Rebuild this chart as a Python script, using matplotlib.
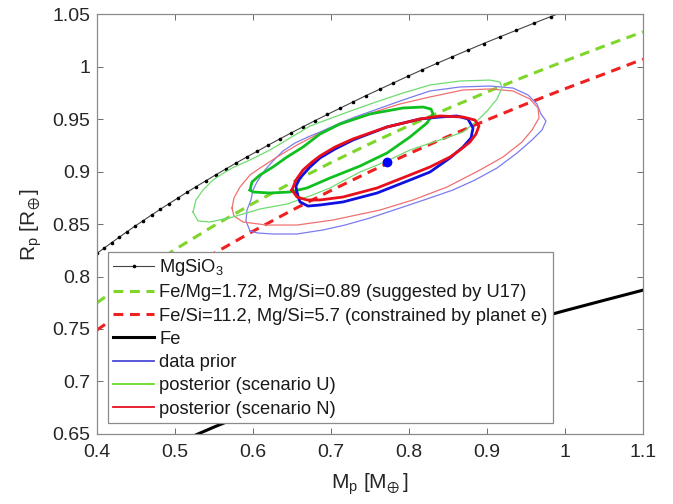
import numpy as np
import matplotlib
matplotlib.use("Agg")
import matplotlib.pyplot as plt

plt.rcParams['font.family'] = ['Liberation Sans', 'DejaVu Sans']
plt.rcParams['mathtext.default'] = 'regular'

# mass-radius relations (mass in M_earth, radius in R_earth)
mgsio3_m = [0.4000, 0.4093, 0.4189, 0.4286, 0.4386, 0.4488, 0.4593, 0.4700, 0.4809, 0.4921,
            0.5036, 0.5153, 0.5273, 0.5396, 0.5522, 0.5651, 0.5782, 0.5917, 0.6055, 0.6196,
            0.6340, 0.6488, 0.6639, 0.6794, 0.6952, 0.7114, 0.7280, 0.7449, 0.7623, 0.7800,
            0.7982, 0.8168, 0.8358, 0.8553, 0.8752, 0.8956, 0.9165, 0.9378, 0.9597, 0.9820, 1.0049]
mgsio3_r = [0.8220, 0.8271, 0.8323, 0.8375, 0.8427, 0.8480, 0.8532, 0.8586, 0.8639, 0.8693,
            0.8747, 0.8802, 0.8857, 0.8912, 0.8968, 0.9024, 0.9080, 0.9137, 0.9193, 0.9251,
            0.9309, 0.9367, 0.9425, 0.9484, 0.9543, 0.9602, 0.9662, 0.9723, 0.9783, 0.9844,
            0.9906, 0.9968, 1.0030, 1.0092, 1.0155, 1.0219, 1.0282, 1.0346, 1.0411, 1.0476, 1.0541]

mass_grid = [0.40, 0.45, 0.50, 0.55, 0.60, 0.65, 0.70, 0.75, 0.80, 0.85, 0.90, 0.95, 1.00, 1.05, 1.10]
r_u17 = [0.7750, 0.8014, 0.8257, 0.8484, 0.8696, 0.8895, 0.9085, 0.9265, 0.9436, 0.9600,
         0.9757, 0.9908, 1.0053, 1.0194, 1.0330]
r_planet_e = [0.7490, 0.7752, 0.7994, 0.8220, 0.8431, 0.8631, 0.8819, 0.8999, 0.9170, 0.9334,
              0.9491, 0.9643, 0.9788, 0.9928, 1.0070]
r_fe = [0.6042, 0.6231, 0.6405, 0.6566, 0.6717, 0.6859, 0.6993, 0.7120, 0.7241, 0.7357,
        0.7467, 0.7573, 0.7675, 0.7773, 0.7870]

# credible-region contours (outer = thin, inner = thick)
prior_out_m = [0.5962, 0.5910, 0.5923, 0.5974, 0.6000, 0.6051, 0.6154, 0.6256, 0.6385, 0.6538,
               0.6705, 0.6859, 0.7115, 0.7308, 0.7564, 0.7923, 0.8269, 0.8654, 0.9038, 0.9333,
               0.9526, 0.9641, 0.9692, 0.9756, 0.9705, 0.9577, 0.9385, 0.9128, 0.8846, 0.8564,
               0.8269, 0.7885, 0.7500, 0.7179, 0.6897, 0.6564, 0.6256, 0.6064, 0.5962]
prior_out_r = [0.8433, 0.8529, 0.8633, 0.8729, 0.8824, 0.8900, 0.9014, 0.9100, 0.9195, 0.9271,
               0.9329, 0.9376, 0.9462, 0.9519, 0.9586, 0.9681, 0.9767, 0.9805, 0.9814, 0.9795,
               0.9729, 0.9643, 0.9548, 0.9481, 0.9395, 0.9300, 0.9176, 0.9033, 0.8919, 0.8824,
               0.8748, 0.8652, 0.8557, 0.8490, 0.8443, 0.8405, 0.8405, 0.8414, 0.8433]
prior_in_m = [0.6564, 0.6551, 0.6603, 0.6731, 0.6859, 0.7051, 0.7282, 0.7718, 0.8141, 0.8397,
              0.8615, 0.8756, 0.8821, 0.8795, 0.8692, 0.8526, 0.8269, 0.8013, 0.7590, 0.7154,
              0.6859, 0.6705, 0.6603, 0.6564]
prior_in_r = [0.8795, 0.8862, 0.8938, 0.9043, 0.9129, 0.9214, 0.9300, 0.9424, 0.9500, 0.9519,
              0.9529, 0.9500, 0.9414, 0.9319, 0.9233, 0.9129, 0.8995, 0.8919, 0.8795, 0.8710,
              0.8681, 0.8671, 0.8710, 0.8795]

u_out_m = [0.5231, 0.5269, 0.5359, 0.5487, 0.5603, 0.5731, 0.5962, 0.6218, 0.6474, 0.6731,
           0.7179, 0.7538, 0.7923, 0.8269, 0.8654, 0.9038, 0.9167, 0.9192, 0.9128, 0.9013,
           0.8885, 0.8692, 0.8397, 0.8013, 0.7718, 0.7372, 0.7154, 0.6987, 0.6731, 0.6436,
           0.6090, 0.5744, 0.5449, 0.5295, 0.5231]
u_out_r = [0.8614, 0.8729, 0.8824, 0.8919, 0.8976, 0.9033, 0.9110, 0.9205, 0.9319, 0.9433,
           0.9557, 0.9652, 0.9748, 0.9824, 0.9862, 0.9871, 0.9852, 0.9795, 0.9690, 0.9586,
           0.9490, 0.9376, 0.9300, 0.9205, 0.9100, 0.8995, 0.8910, 0.8843, 0.8767, 0.8690,
           0.8643, 0.8567, 0.8519, 0.8529, 0.8614]
u_in_m = [0.5962, 0.5987, 0.6090, 0.6256, 0.6436, 0.6641, 0.6859, 0.7115, 0.7500, 0.7923,
          0.8179, 0.8282, 0.8308, 0.8231, 0.8013, 0.7718, 0.7372, 0.6987, 0.6692, 0.6474,
          0.6218, 0.6000, 0.5962]
u_in_r = [0.8824, 0.8900, 0.8967, 0.9043, 0.9138, 0.9233, 0.9357, 0.9452, 0.9548, 0.9605,
          0.9614, 0.9595, 0.9548, 0.9462, 0.9329, 0.9176, 0.9052, 0.8938, 0.8843, 0.8805,
          0.8795, 0.8805, 0.8824]

n_out_m = [0.5731, 0.5756, 0.5872, 0.6179, 0.6564, 0.7026, 0.7628, 0.8051, 0.8487, 0.8910,
           0.9205, 0.9449, 0.9577, 0.9667, 0.9654, 0.9551, 0.9333, 0.9038, 0.8692, 0.8269,
           0.7885, 0.7718, 0.7282, 0.6859, 0.6564, 0.6308, 0.6090, 0.5962, 0.5833, 0.5756, 0.5731]
n_out_r = [0.8652, 0.8576, 0.8519, 0.8490, 0.8490, 0.8538, 0.8633, 0.8729, 0.8852, 0.9014,
           0.9138, 0.9281, 0.9395, 0.9510, 0.9605, 0.9690, 0.9767, 0.9786, 0.9776, 0.9710,
           0.9643, 0.9605, 0.9500, 0.9367, 0.9252, 0.9138, 0.9033, 0.8967, 0.8852, 0.8748, 0.8652]
n_in_m = [0.6500, 0.6551, 0.6641, 0.6756, 0.6859, 0.7051, 0.7282, 0.7718, 0.8141, 0.8397,
          0.8692, 0.8846, 0.8897, 0.8859, 0.8782, 0.8654, 0.8526, 0.8269, 0.8013, 0.7590,
          0.7154, 0.6859, 0.6692, 0.6564, 0.6500]
n_in_r = [0.8824, 0.8919, 0.9014, 0.9090, 0.9148, 0.9233, 0.9310, 0.9424, 0.9500, 0.9529,
          0.9519, 0.9490, 0.9433, 0.9357, 0.9281, 0.9205, 0.9138, 0.9043, 0.8967, 0.8843,
          0.8757, 0.8729, 0.8729, 0.8757, 0.8824]

# measured planet
planet_m = 0.772
planet_r = 0.909

labels = ['MgSiO$_3$',
          'Fe/Mg=1.72, Mg/Si=0.89 (suggested by U17)',
          'Fe/Si=11.2, Mg/Si=5.7 (constrained by planet e)',
          'Fe', 'data prior', 'posterior (scenario U)', 'posterior (scenario N)']
xticks = [0.4, 0.5, 0.6, 0.7, 0.8, 0.9, 1.0, 1.1]
xticklabels = ['0.4', '0.5', '0.6', '0.7', '0.8', '0.9', '1', '1.1']
yticks = [0.65, 0.7, 0.75, 0.8, 0.85, 0.9, 0.95, 1.0, 1.05]
yticklabels = ['0.65', '0.7', '0.75', '0.8', '0.85', '0.9', '0.95', '1', '1.05']

blue, green, red = '#1010e0', '#10c020', '#e8101c'
blue_l, green_l, red_l = '#7b7bef', '#6fdc6f', '#f07070'

fig = plt.figure(figsize=(6.73, 5.04), dpi=100)
ax = fig.add_axes([0.1441, 0.1389, 0.8113, 0.8333])

h_mg, = ax.plot(mgsio3_m, mgsio3_r, '-', color='#444444', lw=0.8, marker='.', ms=3.2,
                mfc='k', mec='k')
h_u, = ax.plot(mass_grid, r_u17, color='#7fd62a', lw=2.2, dashes=(3.2, 2.2))
h_n, = ax.plot(mass_grid, r_planet_e, color='#f02020', lw=2.2, dashes=(3.2, 2.2))
h_fe, = ax.plot(mass_grid, r_fe, color='k', lw=2.2)

ax.plot(prior_out_m, prior_out_r, color=blue_l, lw=0.9)
ax.plot(n_out_m, n_out_r, color=red_l, lw=0.9)
ax.plot(u_out_m, u_out_r, color=green_l, lw=0.9)
ax.plot(u_in_m, u_in_r, color=green, lw=2.0)
ax.plot(prior_in_m, prior_in_r, color=blue, lw=2.0)
ax.plot(n_in_m, n_in_r, color=red, lw=2.0)
ax.plot(planet_m, planet_r, 'o', color='#0000ff', ms=6)

# legend proxies for the contour sets
h_p, = ax.plot([], [], color='#4a4ad8', lw=1.3)
h_pu, = ax.plot([], [], color='#66dd22', lw=1.3)
h_pn, = ax.plot([], [], color='#e81020', lw=1.3)

ax.set_xlim(0.4, 1.1)
ax.set_ylim(0.65, 1.05)
ax.set_xticks(xticks)
ax.set_xticklabels(xticklabels)
ax.set_yticks(yticks)
ax.set_yticklabels(yticklabels)
ax.tick_params(direction='in', top=True, right=True, length=4, width=0.6,
               color='#555555', labelsize=14, labelcolor='#262626')
ax.tick_params(axis='x', pad=7)
ax.tick_params(axis='y', pad=5)
for s in ax.spines.values():
    s.set_color('#8a8a8a')
    s.set_linewidth(0.9)

ax.set_xlabel(r'M$_p$ [M$_{\!\oplus}$]', fontsize=15, color='#262626', labelpad=8)
ax.set_ylabel(r'R$_p$ [R$_{\!\oplus}$]', fontsize=15, color='#262626', labelpad=6)

leg = ax.legend([h_mg, h_u, h_n, h_fe, h_p, h_pu, h_pn], labels,
                loc='lower left', bbox_to_anchor=(0.02, 0.026), fontsize=13.2,
                frameon=True, fancybox=False, framealpha=1, edgecolor='#8a8a8a',
                handlelength=2.2, handletextpad=0.3, labelspacing=0.34,
                borderpad=0.3, borderaxespad=0)
leg.get_frame().set_linewidth(0.9)
for t in leg.get_texts():
    t.set_color('#1a1a1a')

fig.savefig('out.png', dpi=100)
